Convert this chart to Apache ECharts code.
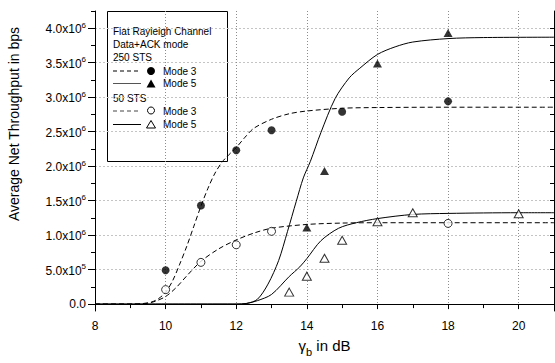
<!DOCTYPE html>
<html>
<head>
<meta charset="utf-8">
<script src="https://cdn.jsdelivr.net/npm/echarts@6/dist/echarts.min.js"></script>
<style>
html, body { margin: 0; padding: 0; background: #fff; }
#chart { width: 555px; height: 363px; }
</style>
</head>
<body>
<div id="chart"></div>
<script>
// measured points (bps)
const x250m3 = [10, 11, 12, 13, 15, 18];
const y250m3 = [490000, 1430000, 2230000, 2520000, 2790000, 2940000];
const x250m5 = [14, 14.5, 16, 18];
const y250m5 = [1110000, 1930000, 3490000, 3930000];
const x50m3 = [10, 11, 12, 13, 18];
const y50m3 = [210000, 605000, 860000, 1055000, 1170000];
const x50m5 = [13.5, 14, 14.5, 15, 16, 17, 20];
const y50m5 = [174000, 405000, 665000, 925000, 1195000, 1325000, 1310000];

// fitted curves
const fitX250m3 = [8, 9, 9.3, 9.6, 9.8, 10, 10.2, 10.4, 10.6, 10.8, 11, 11.2, 11.4, 11.6, 11.8, 12, 12.25, 12.5, 13, 13.5, 14, 15, 16, 18, 21];
const fitY250m3 = [0, 0, 5000, 30000, 80000, 170000, 340000, 580000, 840000, 1130000, 1420000, 1680000, 1900000, 2060000, 2170000, 2270000, 2420000, 2550000, 2680000, 2760000, 2800000, 2840000, 2850000, 2855000, 2855000];
const fitX250m5 = [8, 12, 12.3, 12.6, 12.9, 13.2, 13.45, 13.7, 13.9, 14.1, 14.4, 14.8, 15.2, 15.5, 16, 16.5, 17, 18, 19, 21];
const fitY250m5 = [0, 0, 10000, 70000, 290000, 630000, 1050000, 1490000, 1830000, 2070000, 2490000, 2980000, 3280000, 3420000, 3620000, 3730000, 3800000, 3850000, 3865000, 3870000];
const fitX50m3 = [8, 9, 9.4, 9.7, 10, 10.3, 10.6, 11, 11.5, 12, 12.5, 13, 14, 15, 16, 18, 21];
const fitY50m3 = [0, 0, 5000, 40000, 110000, 240000, 410000, 620000, 800000, 930000, 1030000, 1100000, 1155000, 1175000, 1180000, 1180000, 1180000];
const fitX50m5 = [8, 12, 12.3, 12.6, 13, 13.5, 13.8, 14, 14.4, 14.9, 15.4, 16, 17, 18, 20, 21];
const fitY50m5 = [0, 0, 10000, 50000, 140000, 400000, 540000, 660000, 920000, 1100000, 1180000, 1240000, 1300000, 1315000, 1325000, 1325000];

// ticks
const xMajor = [8, 10, 12, 14, 16, 18, 20];
const xMinor = [9, 11, 13, 15, 17, 19, 21];
const xAll = [8, 9, 10, 11, 12, 13, 14, 15, 16, 17, 18, 19, 20, 21];
const yMajor = [0, 500000, 1000000, 1500000, 2000000, 2500000, 3000000, 3500000, 4000000];
const yMinor = [250000, 750000, 1250000, 1750000, 2250000, 2750000, 3250000, 3750000, 4250000];
const yAll = [0, 250000, 500000, 750000, 1000000, 1250000, 1500000, 1750000, 2000000, 2250000, 2500000, 2750000, 3000000, 3250000, 3500000, 3750000, 4000000];

const FONT = '"Liberation Sans", Arial, sans-serif';
const zip = (xs, ys) => xs.map((x, i) => [x, ys[i]]);

function sci(v) {
    if (v === 0) return '{m|0.0}';
    const e = Math.floor(Math.log10(v) + 1e-9);
    const m = (v / Math.pow(10, e)).toFixed(1);
    return '{m|' + m + 'x10}{s|' + e + '}';
}

const chart = echarts.init(document.getElementById('chart'), null, { renderer: 'svg' });

const black = { color: '#000', width: 1 };
const hideAll = { show: false };

chart.setOption({
    animation: false,
    backgroundColor: '#fff',
    grid: { left: 95, right: 1, top: 11, bottom: 52, containLabel: false, outerBoundsMode: 'none' },
    xAxis: [
        {
            type: 'value', min: 8, max: 21, position: 'bottom',
            axisLine: { lineStyle: black },
            axisTick: { customValues: xMajor, length: 5, lineStyle: black },
            axisLabel: { customValues: xMajor, margin: 9, color: '#000', fontSize: 12, fontFamily: FONT },
            splitLine: { show: true, lineStyle: { color: '#8c8c8c', type: [1, 2], width: 1 } },
            name: '{g|γ}{b|b}{g| in dB}',
            nameLocation: 'middle',
            nameGap: 27,
            nameTextStyle: {
                rich: {
                    g: { fontSize: 15, fontFamily: FONT, color: '#000', verticalAlign: 'bottom', padding: [0, 0, 4, 0] },
                    b: { fontSize: 11, fontFamily: FONT, color: '#000', verticalAlign: 'bottom' }
                }
            }
        },
        {
            type: 'value', min: 8, max: 21, position: 'bottom',
            axisLine: hideAll, axisLabel: hideAll, splitLine: hideAll,
            axisTick: { customValues: xMinor, length: 3, lineStyle: black }
        },
        {
            type: 'value', min: 8, max: 21, position: 'top',
            axisLine: { lineStyle: black }, axisLabel: hideAll, splitLine: hideAll,
            axisTick: { customValues: xAll, inside: true, length: 4, lineStyle: black }
        }
    ],
    yAxis: [
        {
            type: 'value', min: -100000, max: 4250000, position: 'left',
            axisLine: { show: true, lineStyle: black },
            axisTick: { show: true, customValues: yMajor, length: 7, lineStyle: black },
            axisLabel: {
                customValues: yMajor, margin: 9, formatter: sci,
                rich: {
                    m: { fontSize: 12, fontFamily: FONT, color: '#000', verticalAlign: 'bottom' },
                    s: { fontSize: 8, fontFamily: FONT, color: '#000', verticalAlign: 'bottom', padding: [0, 0, 6, 0] }
                }
            },
            splitLine: { show: true, lineStyle: { color: '#c4c4c4', type: [2, 2], width: 1 } }
        },
        {
            type: 'value', min: -100000, max: 4250000, position: 'left',
            axisLine: hideAll, axisLabel: hideAll, splitLine: hideAll,
            axisTick: { show: true, customValues: yMinor, length: 4, lineStyle: black }
        },
        {
            type: 'value', min: -100000, max: 4250000, position: 'right',
            axisLine: { show: true, lineStyle: black }, axisLabel: hideAll, splitLine: hideAll,
            axisTick: { show: true, customValues: yAll, inside: true, length: 4, lineStyle: black }
        }
    ],
    graphic: [
        {
            type: 'text', x: 14, y: 124, rotation: Math.PI / 2,
            style: { text: 'Average Net Throughput in bps', font: '14px ' + FONT, fill: '#000', align: 'center', verticalAlign: 'middle' }
        },
        // legend box
        {
            type: 'group', z: 100,
            children: [
                { type: 'rect', shape: { x: 107.5, y: 11.5, width: 120, height: 150 }, style: { fill: '#fff', stroke: '#000', lineWidth: 1 } },
                { type: 'text', x: 113, y: 31, style: { text: 'Flat Rayleigh Channel', font: '10px ' + FONT, fill: '#000', verticalAlign: 'middle' } },
                { type: 'text', x: 113, y: 44, style: { text: 'Data+ACK mode', font: '10px ' + FONT, fill: '#000', verticalAlign: 'middle' } },
                { type: 'text', x: 113, y: 57, style: { text: '250 STS', font: '10px ' + FONT, fill: '#000', verticalAlign: 'middle' } },
                { type: 'line', shape: { x1: 113, y1: 71, x2: 141, y2: 71 }, style: { stroke: '#000', lineWidth: 1, lineDash: [4, 3] } },
                { type: 'circle', shape: { cx: 151, cy: 71, r: 4 }, style: { fill: '#000' } },
                { type: 'text', x: 163, y: 71, style: { text: 'Mode 3', font: '10px ' + FONT, fill: '#000', verticalAlign: 'middle' } },
                { type: 'line', shape: { x1: 113, y1: 83.5, x2: 141, y2: 83.5 }, style: { stroke: '#555', lineWidth: 1 } },
                { type: 'polygon', shape: { points: [[151, 79.5], [155.5, 87.5], [146.5, 87.5]] }, style: { fill: '#000' } },
                { type: 'text', x: 163, y: 83.5, style: { text: 'Mode 5', font: '10px ' + FONT, fill: '#000', verticalAlign: 'middle' } },
                { type: 'text', x: 113, y: 98, style: { text: '50 STS', font: '10px ' + FONT, fill: '#000', verticalAlign: 'middle' } },
                { type: 'line', shape: { x1: 113, y1: 111, x2: 141, y2: 111 }, style: { stroke: '#444', lineWidth: 1, lineDash: [4, 3] } },
                { type: 'circle', shape: { cx: 151, cy: 110.5, r: 3.5 }, style: { fill: '#fff', stroke: '#000', lineWidth: 1 } },
                { type: 'text', x: 163, y: 111, style: { text: 'Mode 3', font: '10px ' + FONT, fill: '#000', verticalAlign: 'middle' } },
                { type: 'line', shape: { x1: 113, y1: 124.5, x2: 141, y2: 124.5 }, style: { stroke: '#000', lineWidth: 1 } },
                { type: 'polygon', shape: { points: [[151, 120.5], [155.5, 128], [146.5, 128]] }, style: { fill: '#fff', stroke: '#000', lineWidth: 1 } },
                { type: 'text', x: 163, y: 124.5, style: { text: 'Mode 5', font: '10px ' + FONT, fill: '#000', verticalAlign: 'middle' } }
            ]
        }
    ],
    series: [
        { name: 'fit 250 STS Mode 3', type: 'line', data: zip(fitX250m3, fitY250m3), showSymbol: false, smooth: 0.3, silent: true, z: 2, lineStyle: { color: '#000', width: 1, type: [5, 3] } },
        { name: 'fit 250 STS Mode 5', type: 'line', data: zip(fitX250m5, fitY250m5), showSymbol: false, smooth: 0.3, silent: true, z: 2, lineStyle: { color: '#000', width: 1 } },
        { name: 'fit 50 STS Mode 3', type: 'line', data: zip(fitX50m3, fitY50m3), showSymbol: false, smooth: 0.3, silent: true, z: 2, lineStyle: { color: '#000', width: 1, type: [5, 3] } },
        { name: 'fit 50 STS Mode 5', type: 'line', data: zip(fitX50m5, fitY50m5), showSymbol: false, smooth: 0.3, silent: true, z: 2, lineStyle: { color: '#000', width: 1 } },
        { name: '250 STS Mode 3', type: 'scatter', data: zip(x250m3, y250m3), symbol: 'circle', symbolSize: 8, z: 5, itemStyle: { color: '#000' } },
        { name: '250 STS Mode 5', type: 'scatter', data: zip(x250m5, y250m5), symbol: 'triangle', symbolSize: [9, 8], z: 5, itemStyle: { color: '#000' } },
        { name: '50 STS Mode 3', type: 'scatter', data: zip(x50m3, y50m3), symbol: 'circle', symbolSize: 8, z: 5, itemStyle: { color: '#fff', borderColor: '#000', borderWidth: 1 } },
        { name: '50 STS Mode 5', type: 'scatter', data: zip(x50m5, y50m5), symbol: 'triangle', symbolSize: [9, 8], z: 5, itemStyle: { color: '#fff', borderColor: '#000', borderWidth: 1 } }
    ]
});
</script>
</body>
</html>
